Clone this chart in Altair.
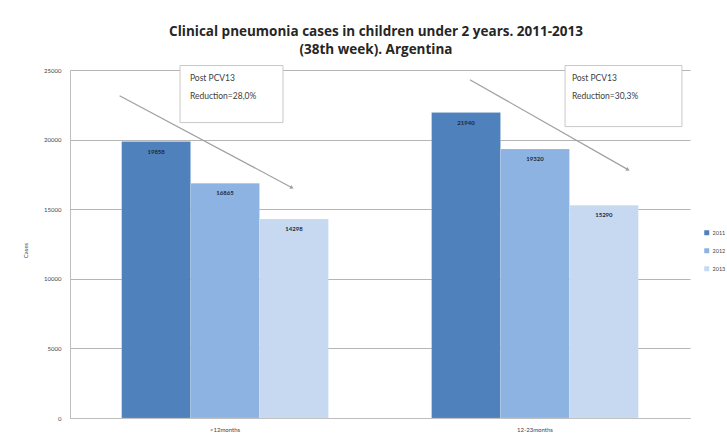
import altair as alt
import pandas as pd

# Clinical pneumonia cases, children under 2 years, up to week 38
groups = ["<12months", "12-23months"]
years = ["2011", "2012", "2013"]
cases_lt12 = [19858, 16865, 14298]
cases_12_23 = [21940, 19320, 15290]
colors = ["#4f81bd", "#8db3e2", "#c6d9f1"]

rows = []
for g, vals in zip(groups, [cases_lt12, cases_12_23]):
    for y, v in zip(years, vals):
        rows.append({"group": g, "year": y, "cases": v})
bars_df = pd.DataFrame(rows)

# Annotation geometry in data units (x: 0..2 across the two groups, y: cases)
box_x0 = [0.355, 1.597]
box_x1 = [0.687, 1.974]
box_y0 = [21223, 20935]
box_y1 = [25324, 25324]
txt_x = [0.387, 1.619]
txt_y1 = [24400, 24400]
txt_y2 = [23100, 23100]
arr_x0 = [0.16, 1.29]
arr_y0 = [23150, 24300]
arr_x1 = [0.716, 1.80]
arr_y1 = [16547, 17842]

reductions = []
for vals in [cases_lt12, cases_12_23]:
    r = (vals[0] - vals[-1]) / vals[0] * 100
    reductions.append("Reduction=" + f"{r:.1f}".replace(".", ",") + "%")

ann_df = pd.DataFrame({
    "bx0": box_x0, "bx1": box_x1, "by0": box_y0, "by1": box_y1,
    "tx": txt_x, "ty1": txt_y1, "ty2": txt_y2,
    "ax0": arr_x0, "ay0": arr_y0, "ax1": arr_x1, "ay1": arr_y1,
    "l1": ["Post PCV13", "Post PCV13"], "l2": reductions,
})

FONT = "Lato"
yscale = alt.Scale(domain=[0, 25000], nice=False)

base = alt.Chart(bars_df)
bars = base.mark_bar(stroke="#ffffff", strokeOpacity=0.25, strokeWidth=0.5).encode(
    x=alt.X("group:N", sort=groups, title=None,
            scale=alt.Scale(paddingInner=0.333, paddingOuter=0.1667),
            axis=alt.Axis(labelAngle=0, labelFontSize=6, labelColor="#444444",
                          labelPadding=8, ticks=False, domainColor="#bdbdbd")),
    xOffset=alt.XOffset("year:N", sort=years, scale=alt.Scale(paddingInner=0, paddingOuter=0)),
    y=alt.Y("cases:Q", scale=yscale, title="Cases",
            axis=alt.Axis(values=[0, 5000, 10000, 15000, 20000, 25000], format="d",
                          labelFontSize=6, labelColor="#444444", labelPadding=9, ticks=False,
                          domainColor="#bdbdbd", gridColor="#b5b5b5", gridWidth=1,
                          titleFontSize=6, titleFontWeight="normal", titleColor="#444444",
                          titleX=-42, titleY=180)),
    color=alt.Color("year:N", sort=years, scale=alt.Scale(domain=years, range=colors),
                    legend=alt.Legend(title=None, orient="none", legendX=634, legendY=160,
                                      symbolType="square", symbolSize=25, labelFontSize=5.5,
                                      labelColor="#444444", rowPadding=11, labelOffset=3,
                                      symbolStrokeWidth=0)),
)
bar_text = base.mark_text(baseline="top", dy=7, fontSize=6, fontWeight="bold",
                          color="#1f2a3a", font=FONT).encode(
    x=alt.X("group:N", sort=groups),
    xOffset=alt.XOffset("year:N", sort=years),
    y=alt.Y("cases:Q", scale=yscale),
    text="cases:Q",
)
group_layer = alt.layer(bars, bar_text)

ann = alt.Chart(ann_df)
xq = alt.Scale(domain=[0, 2], nice=False, zero=False)
boxes = ann.mark_rect(fill="#ffffff", stroke="#c8c8c8", strokeWidth=1).encode(
    x=alt.X("bx0:Q", scale=xq, axis=None), x2="bx1:Q",
    y=alt.Y("by0:Q", scale=yscale), y2="by1:Q",
)
line1 = ann.mark_text(align="left", baseline="middle", fontSize=8.5, color="#404040", font=FONT).encode(
    x=alt.X("tx:Q", scale=xq, axis=None), y=alt.Y("ty1:Q", scale=yscale), text="l1:N",
)
line2 = ann.mark_text(align="left", baseline="middle", fontSize=8.5, color="#404040", font=FONT).encode(
    x=alt.X("tx:Q", scale=xq, axis=None), y=alt.Y("ty2:Q", scale=yscale), text="l2:N",
)
arrows = ann.mark_rule(color="#a0a0a0", strokeWidth=1.2).encode(
    x=alt.X("ax0:Q", scale=xq, axis=None), x2="ax1:Q",
    y=alt.Y("ay0:Q", scale=yscale), y2="ay1:Q",
)
heads = ann.mark_point(shape="triangle-right", angle=28, size=18, filled=True,
                       color="#a0a0a0", opacity=1).encode(
    x=alt.X("ax1:Q", scale=xq, axis=None), y=alt.Y("ay1:Q", scale=yscale),
)
ann_layer = alt.layer(arrows, heads, boxes, line1, line2)

chart = alt.layer(group_layer, ann_layer).resolve_scale(x="independent").properties(
    width=620, height=348,
    autosize=alt.AutoSizeParams(type="none"),
    padding={"left": 70, "top": 70, "right": 37, "bottom": 19},
    title=alt.Title(["Clinical pneumonia cases in children under 2 years. 2011-2013",
                     "(38th week). Argentina"],
                    fontSize=13.5, font="Open Sans", fontWeight="bold", color="#262626",
                    lineHeight=18.5, offset=8, anchor="middle", dx=-4),
).configure(font=FONT).configure_view(stroke=None).configure_axis(
    labelFont=FONT, titleFont=FONT
).configure_legend(labelFont=FONT)

chart.save("out.html", embed_options={"renderer": "svg", "actions": False})
